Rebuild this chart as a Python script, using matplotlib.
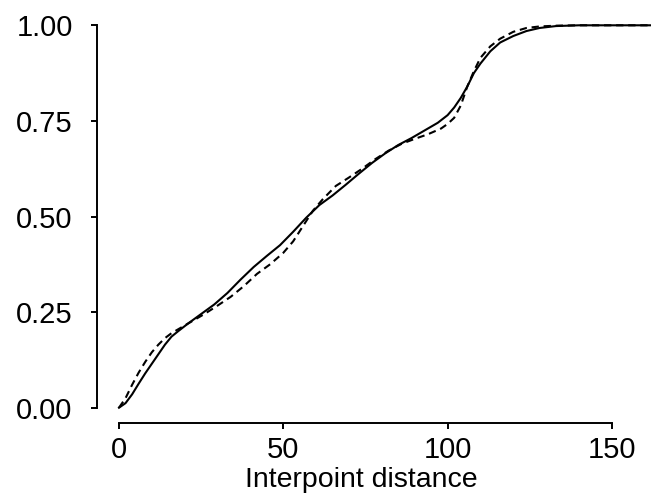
import matplotlib
matplotlib.use("Agg")
import matplotlib.pyplot as plt

# Cumulative curves (interpoint distance vs proportion)
solid_x = [0, 2, 4, 6, 8, 10, 12, 14, 16, 18, 21, 25, 29, 33, 37, 41, 45, 49, 53, 57,
           61, 65, 69, 73, 77, 81, 85, 89, 93, 97, 100, 102, 104, 106, 108, 110, 113,
           116, 120, 124, 128, 133, 140, 150, 163]
solid_y = [0, 0.012, 0.035, 0.063, 0.09, 0.115, 0.14, 0.165, 0.186, 0.2, 0.22, 0.245,
           0.27, 0.3, 0.335, 0.368, 0.397, 0.425, 0.46, 0.497, 0.53, 0.555, 0.583, 0.612,
           0.64, 0.665, 0.687, 0.705, 0.725, 0.745, 0.765, 0.785, 0.81, 0.84, 0.875, 0.9,
           0.932, 0.955, 0.972, 0.985, 0.993, 0.998, 1, 1, 1]

dashed_x = [0, 2, 4, 6, 8, 10, 12, 14, 16, 19, 22, 26, 30, 34, 38, 42, 46, 50, 53, 56,
            59, 62, 66, 70, 74, 78, 82, 86, 90, 94, 98, 100, 102, 104, 106, 108, 110,
            113, 116, 120, 124, 128, 133, 140, 150, 163]
dashed_y = [0, 0.025, 0.06, 0.092, 0.12, 0.145, 0.165, 0.182, 0.195, 0.21, 0.225, 0.245,
            0.267, 0.29, 0.318, 0.35, 0.375, 0.405, 0.435, 0.475, 0.515, 0.545, 0.58,
            0.602, 0.625, 0.65, 0.672, 0.69, 0.703, 0.715, 0.73, 0.742, 0.758, 0.79,
            0.84, 0.88, 0.915, 0.945, 0.965, 0.983, 0.993, 0.997, 0.999, 1, 1, 1]

x_ticks = [0, 50, 100, 150]
y_ticks = [0.0, 0.25, 0.5, 0.75, 1.0]
y_labels = ["0.00", "0.25", "0.50", "0.75", "1.00"]

plt.rcParams['font.family'] = ['Liberation Sans', 'DejaVu Sans']

fig = plt.figure(figsize=(6.51, 4.95), dpi=100)
ax = fig.add_axes([97 / 651, 72 / 495, 554 / 651, 413 / 495])

ax.plot(solid_x, solid_y, color='black', linewidth=1.5)
ax.plot(dashed_x, dashed_y, color='black', linewidth=1.5, linestyle=(0, (3.5, 2.3)))

ax.set_xlim(-6.69, 161.9)
ax.set_ylim(-0.04, 1.04)

# base-graphics look: axis lines only span the ticks
for side in ['top', 'right']:
    ax.spines[side].set_visible(False)
ax.spines['left'].set_bounds(0, 1)
ax.spines['bottom'].set_bounds(0, 150)
for side in ['left', 'bottom']:
    ax.spines[side].set_linewidth(1.4)

ax.set_xticks(x_ticks)
ax.set_yticks(y_ticks)
ax.set_yticklabels(y_labels)
ax.tick_params(axis='both', length=4.5, width=1.4, labelsize=21)
ax.tick_params(axis='y', pad=13)
ax.tick_params(axis='x', pad=5)

ax.set_xlabel('Interpoint distance', fontsize=20.5, va='baseline')
ax.xaxis.set_label_coords(361 / 651, 1 - 487 / 495, transform=fig.transFigure)

fig.savefig('out.png', dpi=100)
